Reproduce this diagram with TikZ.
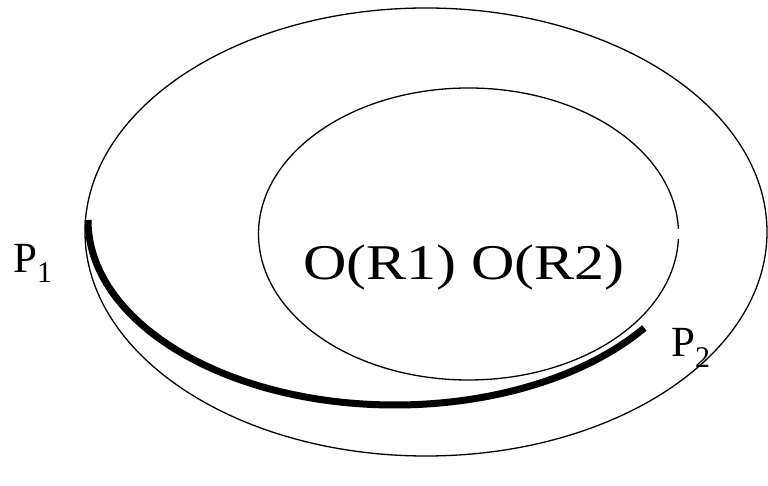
\documentclass[tikz,border=0pt]{standalone}
\usepackage{fontspec}
\setmainfont{Liberation Serif}
\begin{document}
\begin{tikzpicture}[x=1pt,y=1pt,
  thin line/.style={line width=1.3pt},
  thick arc/.style={line width=7pt},
  lbl/.style={anchor=base west,inner sep=0pt,font=\fontsize{43}{43}\selectfont}]
\useasboundingbox (0,0) rectangle (768,486);
% outer ellipse
\draw[thin line] (426,254) ellipse[x radius=341,y radius=224];
% inner ellipse with tiny gap at its right side
\draw[thin line] (468.5,252) ++(2:210 and 146) arc[start angle=2,end angle=358,x radius=210,y radius=146];
% thick arc P1 -> P2
\coordinate (P1pt) at (88,266);
\draw[thick arc] (P1pt) arc[start angle=180,end angle=324.3,x radius=307,y radius=185] coordinate (P2pt);
% labels
\node[lbl] (p1) at (13,213) {P\raisebox{-10pt}{\fontsize{30}{30}\selectfont 1}};
\node[lbl] (p2) at (671,129) {P\raisebox{-11pt}{\fontsize{30}{30}\selectfont 2}};
\node[anchor=base west,inner sep=0pt,font=\fontsize{50}{50}\selectfont] (o) at (303,206) {\scalebox{1.2}[1]{O(R1) O(R2)}};
\end{tikzpicture}
\end{document}
